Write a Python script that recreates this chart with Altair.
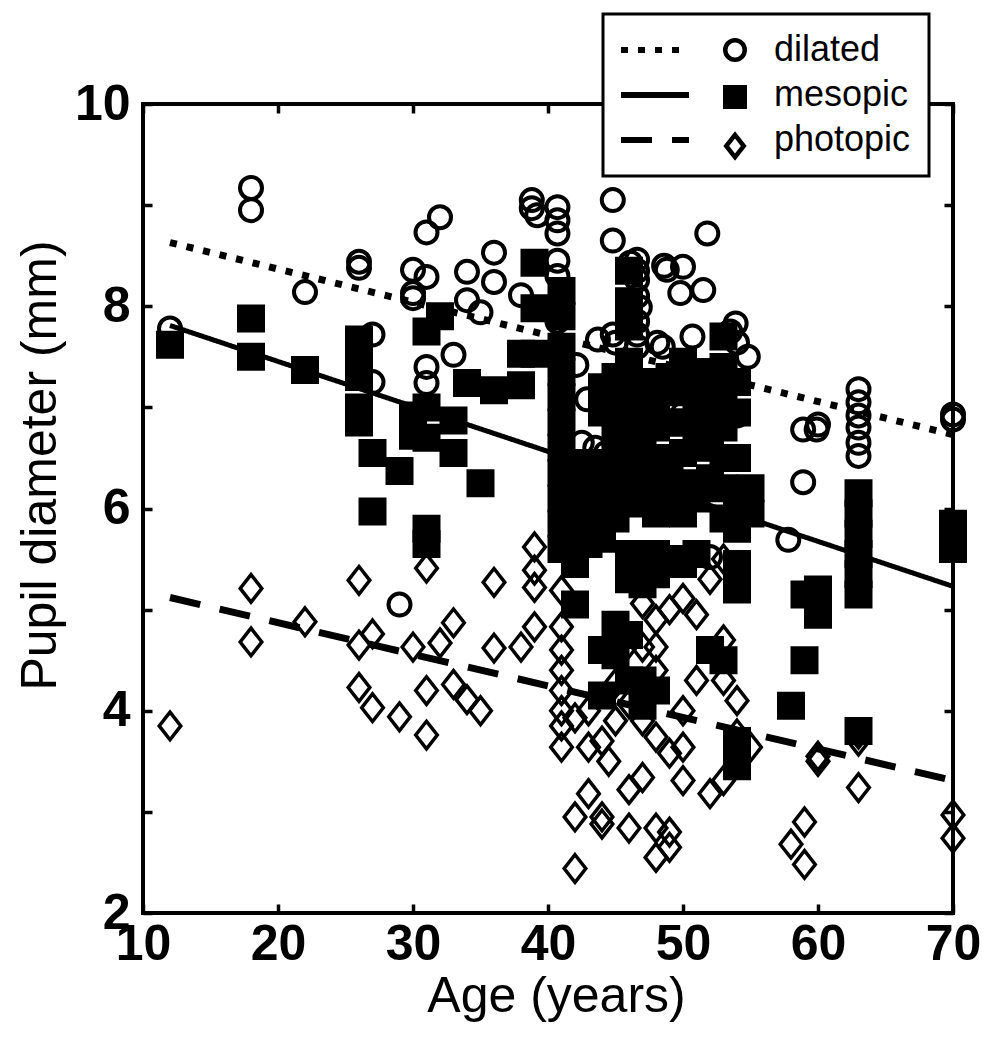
import altair as alt
import pandas as pd

FONT = "Liberation Sans"

# ---- dilated (open circles)
dil_age = [12, 18, 18, 22, 26, 26, 27, 27, 29, 30, 30, 30, 31, 31, 31, 31, 32, 33, 34, 34, 35,
           36, 36, 38, 38.8, 38.8, 39.2, 40.7, 40.7, 40.7, 40.7, 40.7, 40.7, 40.7, 42.1, 42.9, 43.7,
           44.8, 44.8, 44.8, 45.0, 46.1, 46.6, 46.6, 46.6, 46.6, 46.8, 46.6, 46.6, 46.6, 48.8,
           48.6, 50.0, 49.8, 51.5, 51.8, 48.1, 48.5, 50.7, 50.0, 49.9, 51.5, 53.9, 53.5, 54.0,
           54.8, 54.0, 42.5, 43.5, 44.3, 52.0, 57.8, 58.9, 58.9, 59.9, 60.0,
           63, 63, 63, 63, 63, 63, 70, 70]
dil_val = [7.78, 9.17, 8.95, 8.14, 8.44, 8.38, 7.72, 7.25, 5.05, 8.36, 8.13, 8.08, 8.29, 8.73, 7.40, 7.24, 8.88, 7.52, 8.34, 8.06, 7.94,
           8.53, 8.24, 8.11, 9.05, 8.97, 8.90, 8.98, 8.85, 8.72, 8.45, 8.30, 8.00, 7.85, 7.42, 7.08, 7.67,
           9.05, 8.65, 7.72, 7.64, 8.43, 8.46, 8.35, 8.26, 8.10, 7.99, 7.85, 7.72, 7.60, 8.36,
           8.40, 8.39, 8.13, 8.16, 8.72, 7.64, 7.60, 7.70, 6.94, 6.55, 6.90, 7.83, 7.75, 7.64,
           7.50, 6.92, 6.65, 6.60, 6.55, 5.52, 5.69, 6.26, 6.78, 6.78, 6.83,
           7.18, 7.05, 6.92, 6.80, 6.65, 6.52, 6.93, 6.88]

# ---- mesopic (filled squares)
mes_age = [12, 18, 18, 22, 26, 26, 26, 26, 26, 27, 27, 29, 30, 30, 31, 31, 31, 31, 31,
           32, 33, 33, 34, 35, 36, 38, 38, 39, 39, 39,
           41, 41, 41, 41, 41, 41, 41, 41, 41, 41, 41,
           42, 42, 42, 42, 42, 43, 43, 43, 43,
           44, 44, 44, 44, 44, 44, 44,
           45, 45, 45, 45, 45, 45, 45, 45,
           46, 46, 46, 46, 46, 46, 46, 46, 46, 46, 46, 46, 46,
           47, 47, 47, 47, 47, 47, 47, 47, 47,
           48, 48, 48, 48, 48, 48, 48, 48,
           49, 49, 49, 49, 49,
           50, 50, 50, 50, 50, 50, 50,
           51, 51, 51, 51, 51,
           52, 52, 52, 52, 52,
           53, 53, 53, 53, 53, 53, 53, 53,
           54, 54, 54, 54, 54, 54, 54, 54, 54,
           55, 55, 58, 59, 59, 60, 60,
           63, 63, 63, 63, 63, 63, 63, 70, 70]
mes_val = [7.62, 7.88, 7.50, 7.37, 7.67, 7.45, 7.30, 7.00, 6.85, 6.55, 5.97, 6.37, 6.92, 6.72, 7.75, 7.00, 6.70, 5.80, 5.65,
           7.90, 6.87, 6.55, 7.24, 6.25, 7.17, 7.53, 7.22, 8.43, 7.98, 7.53,
           8.15, 7.90, 7.60, 7.35, 7.10, 6.85, 6.60, 6.35, 6.10, 5.85, 5.60,
           6.25, 6.00, 5.75, 5.45, 5.05, 6.45, 6.15, 5.90, 5.65,
           7.20, 6.95, 6.30, 6.00, 5.70, 4.60, 4.15,
           7.30, 7.05, 6.75, 6.50, 6.20, 5.90, 4.85, 4.55,
           8.35, 8.05, 7.80, 7.45, 7.15, 6.90, 6.60, 6.30, 6.05, 5.55, 5.30, 4.75, 4.30,
           7.25, 6.95, 6.70, 6.40, 6.10, 5.45, 5.25, 4.30, 4.05,
           7.05, 6.80, 6.50, 6.20, 5.95, 5.55, 5.35, 4.20,
           7.30, 6.85, 6.45, 6.15, 5.50,
           7.45, 7.15, 6.85, 6.55, 6.25, 5.95, 5.45,
           7.35, 7.05, 6.70, 6.10, 5.55,
           7.20, 6.90, 6.60, 6.30, 4.60,
           7.70, 7.40, 7.10, 6.80, 6.50, 6.20, 5.90, 4.50,
           7.25, 6.95, 6.50, 6.15, 5.80, 5.45, 5.20, 3.70, 3.45,
           6.20, 5.95, 4.05, 5.15, 4.50, 5.20, 4.95,
           6.15, 5.95, 5.75, 5.55, 5.35, 5.15, 3.80, 5.85, 5.60]

# ---- photopic (open diamonds)
pho_age = [12, 18, 18, 22, 26, 26, 26, 27, 27, 29, 30, 31, 31, 31, 32, 33, 33, 34, 35,
           36, 36, 38, 39, 39, 39, 39, 41, 41, 41, 41, 41, 41, 41, 41,
           42, 42, 42, 43, 43, 43, 44, 44, 44, 44.5, 45, 45, 46, 46, 46, 46,
           47, 47, 47, 47, 47, 48, 48, 48, 48, 48, 48, 49, 49, 49, 49,
           50, 50, 50, 50, 51, 51, 52, 52, 53, 53, 53, 53, 54, 54, 55,
           58, 59, 59, 60, 60, 63, 63, 63, 70, 70]
pho_val = [3.85, 5.21, 4.68, 4.88, 5.29, 4.65, 4.23, 4.76, 4.03, 3.94, 4.63, 5.41, 4.20, 3.76, 4.67, 4.87, 4.26, 4.11, 4.00,
           5.27, 4.62, 4.63, 5.62, 5.39, 5.22, 4.83, 5.19, 4.83, 4.60, 4.40, 4.20, 4.00, 3.85, 3.64,
           3.93, 2.95, 2.44, 4.00, 3.64, 3.18, 2.95, 2.88, 3.70, 3.50, 4.27, 3.90, 4.67, 4.07, 3.22, 2.84,
           5.06, 4.63, 4.24, 3.34, 3.90, 4.90, 4.63, 3.74, 2.84, 2.55, 4.40, 5.00, 3.58, 2.80, 2.65,
           5.11, 4.00, 3.64, 3.31, 4.95, 4.30, 5.30, 3.18, 5.50, 4.70, 4.30, 3.31, 4.10, 3.77, 3.64,
           2.68, 2.90, 2.48, 3.50, 3.55, 3.24, 3.77, 3.70, 2.97, 2.74]

# ---- regression lines (end points)
fit_age = [12, 70]
fit_dilated = [8.63, 6.73]
fit_mesopic = [7.81, 5.23]
fit_photopic = [5.12, 3.31]

x_ticks = [10, 20, 30, 40, 50, 60, 70]
y_labels = [2, 4, 6, 8, 10]
y_ticks = [2, 3, 4, 5, 6, 7, 8, 9, 10]

pts = pd.DataFrame({
    "age": dil_age + mes_age + pho_age,
    "diam": dil_val + mes_val + pho_val,
    "series": ["dilated"] * len(dil_age) + ["mesopic"] * len(mes_age) + ["photopic"] * len(pho_age),
})
fits = pd.DataFrame({
    "age": fit_age * 3,
    "diam": fit_dilated + fit_mesopic + fit_photopic,
    "fit": ["dilated"] * 2 + ["mesopic"] * 2 + ["photopic"] * 2,
})

W, H = 810, 809
xs = alt.Scale(domain=[10, 70], nice=False, zero=False)
ys = alt.Scale(domain=[2, 10], nice=False, zero=False)

ax_x_lab = alt.Axis(orient="bottom", values=x_ticks, ticks=False, domain=False, grid=False,
                    labelFont=FONT, labelFontSize=50, labelFontWeight="bold", labelColor="black",
                    labelPadding=6, labelFlush=False, labelOverlap=False,
                    labelBaseline="top",
                    title="Age (years)", titleFont=FONT, titleFontSize=50, titleFontWeight="normal",
                    titleColor="black", titleX=413, titleY=98, titleAlign="center",
                    titleBaseline="alphabetic")
ax_y_lab = alt.Axis(orient="left", values=y_labels, ticks=False, domain=False, grid=False,
                    labelFont=FONT, labelFontSize=50, labelFontWeight="bold", labelColor="black",
                    labelPadding=13, labelFlush=False, labelOverlap=False, labelBaseline="middle",
                    title="Pupil diameter (mm)", titleFont=FONT, titleFontSize=50,
                    titleFontWeight="normal", titleColor="black", titleX=-88, titleY=361,
                    titleAlign="center", titleBaseline="alphabetic", titleAngle=270)


def tick_axis(orient, values):
    off = -H if orient in ("top", "bottom") else -W
    return alt.Axis(orient=orient, offset=off, values=values, labels=False, ticks=True,
                    tickSize=9, tickWidth=3.5, tickColor="black", domain=False, grid=False,
                    title=None)


leg_lines = alt.Legend(title=None, orient="none", legendX=460, legendY=-90, direction="vertical",
                       fillColor="white", strokeColor="black", padding=18, rowPadding=9,
                       symbolType="M-3.5,0L3.5,0", symbolSize=377, symbolOffset=16,
                       symbolStrokeWidth=6, symbolStrokeColor="black",
                       labelFont=FONT, labelFontSize=36, labelColor="black", labelOffset=101,
                       zindex=1)
leg_pts = alt.Legend(title=None, orient="none", legendX=574, legendY=-72, direction="vertical",
                     padding=0, rowPadding=9, symbolSize=380, symbolStrokeWidth=4.5,
                     symbolStrokeColor="black", labelFont=FONT, labelFontSize=36,
                     labelExpr="' '", labelColor="black", zindex=2)

DIAMOND = "M0,-1.15L0.9,0L0,1.15L-0.9,0Z"
dash_scale = alt.Scale(range=[[7, 10], [1, 0], [31, 20]])
shape_scale = alt.Scale(range=["circle", "square", DIAMOND])
fill_scale = alt.Scale(range=["transparent", "black", "transparent"])
stroke_scale = alt.Scale(range=["black", "black", "black"])


def line_layer(name, width, xaxis, yaxis):
    return alt.Chart(fits).transform_filter(alt.datum.fit == name).mark_line(
        color="black", strokeWidth=width, strokeCap="butt"
    ).encode(
        x=alt.X("age:Q", scale=xs, axis=xaxis),
        y=alt.Y("diam:Q", scale=ys, axis=yaxis),
        strokeDash=alt.StrokeDash("fit:N", scale=dash_scale, legend=leg_lines),
    )


def point_layer(name, size, sw):
    return alt.Chart(pts).transform_filter(alt.datum.series == name).mark_point(
        size=size, strokeWidth=sw, opacity=1, filled=False
    ).encode(
        x=alt.X("age:Q", scale=xs, axis=None),
        y=alt.Y("diam:Q", scale=ys, axis=None),
        shape=alt.Shape("series:N", scale=shape_scale, legend=leg_pts),
        fill=alt.Fill("series:N", scale=fill_scale, legend=leg_pts),
        stroke=alt.Stroke("series:N", scale=stroke_scale, legend=leg_pts),
    )


l_dot = line_layer("dilated", 7, ax_x_lab, ax_y_lab)
l_sol = line_layer("mesopic", 5, tick_axis("top", x_ticks), tick_axis("right", y_ticks))
l_dash = line_layer("photopic", 7, tick_axis("bottom", x_ticks), tick_axis("left", y_ticks))

p_c = point_layer("dilated", 484, 4)
p_s = point_layer("mesopic", 676, 2)
p_d = point_layer("photopic", 576, 3.5)

chart = alt.layer(l_dot, l_sol, l_dash, p_c, p_s, p_d).resolve_axis(
    x="independent", y="independent"
).properties(
    width=W, height=H,
    autosize=alt.AutoSizeParams(type="none"),
    padding={"left": 135, "top": 96, "right": 33, "bottom": 129},
    background="white",
).configure_view(
    stroke="black", strokeWidth=4
).configure_legend(
    strokeWidth=3
)

chart.save("out.html", embed_options={"renderer": "svg", "actions": False})
